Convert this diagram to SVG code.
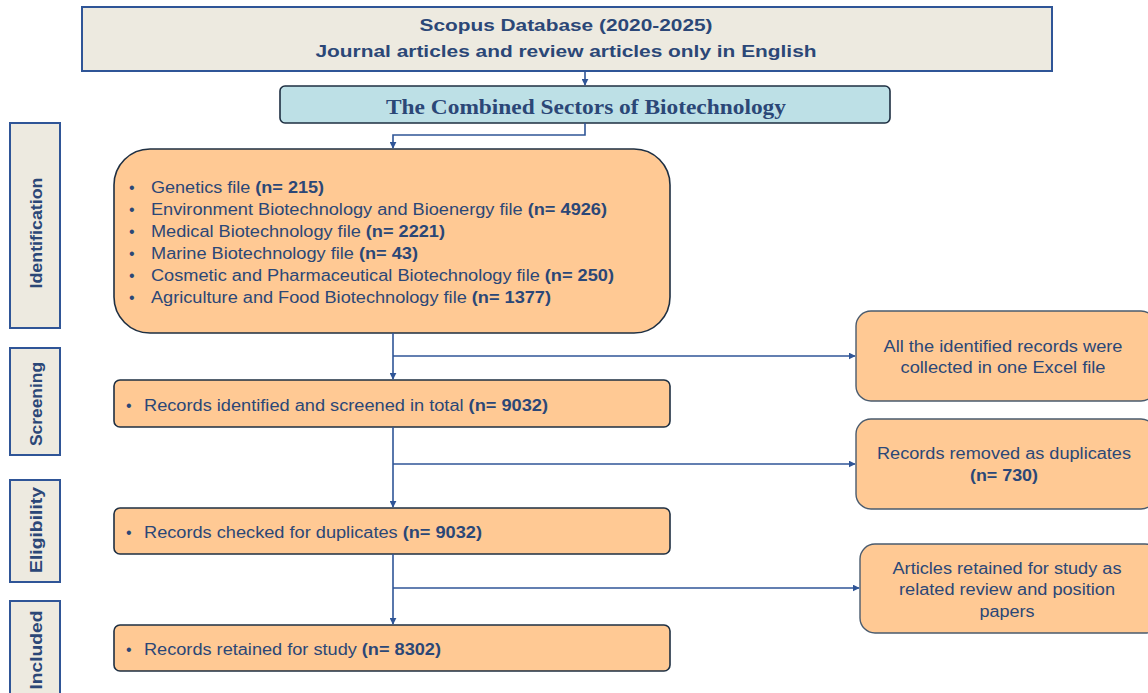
<svg xmlns="http://www.w3.org/2000/svg" width="1148" height="693" viewBox="0 0 1148 693">
  <defs>
    <marker id="arrow" viewBox="0 0 10 10" refX="9" refY="5" markerWidth="7" markerHeight="7" markerUnits="userSpaceOnUse" orient="auto">
      <path d="M0,0 L10,5 L0,10 z" fill="#2F5597"/>
    </marker>
    <style>
      .band { fill: #EDEAE0; stroke: #2F5597; stroke-width: 2; }
      .stage { fill: #FFC994; stroke: #1E2F42; stroke-width: 1.6; }
      .side { fill: #FFC994; stroke: #4A5B6E; stroke-width: 1.4; }
      .title { fill: #BDE0E6; stroke: #1E2F42; stroke-width: 1.6; }
      .link { fill: none; stroke: #2F5597; stroke-width: 1.6; }
      .t { font-family: "Liberation Sans", Arial, sans-serif; fill: #2B4777; font-size: 16px; }
      .b { font-weight: bold; }
      .lbl { font-family: "Liberation Sans", Arial, sans-serif; fill: #2B4777; font-size: 17px; font-weight: bold; text-anchor: middle; }
    </style>
  </defs>

  <!-- Source database -->
  <g id="scopus">
    <rect class="band" x="82" y="7" width="970" height="64"/>
    <text class="t b" x="566" y="31" font-size="20" text-anchor="middle" textLength="293" lengthAdjust="spacingAndGlyphs">Scopus Database (2020-2025)</text>
    <text class="t b" x="566" y="57" font-size="20" text-anchor="middle" textLength="501" lengthAdjust="spacingAndGlyphs">Journal articles and review articles only in English</text>
  </g>

  <!-- Heading box -->
  <g id="sectors">
    <rect class="title" x="280" y="86" width="610" height="37" rx="5"/>
    <text x="586" y="114" font-family="'Liberation Serif', 'Times New Roman', serif" font-size="22" font-weight="bold" fill="#2B4777" text-anchor="middle" textLength="400" lengthAdjust="spacingAndGlyphs">The Combined Sectors of Biotechnology</text>
  </g>

  <!-- Stage labels -->
  <g id="stage-identification">
    <rect class="band" x="10" y="123" width="50" height="205"/>
    <text class="lbl" transform="translate(42,233) rotate(-90)" textLength="111" lengthAdjust="spacingAndGlyphs">Identification</text>
  </g>
  <g id="stage-screening">
    <rect class="band" x="10" y="348" width="50" height="107"/>
    <text class="lbl" transform="translate(42,404) rotate(-90)" textLength="84" lengthAdjust="spacingAndGlyphs">Screening</text>
  </g>
  <g id="stage-eligibility">
    <rect class="band" x="10" y="480" width="50" height="102"/>
    <text class="lbl" transform="translate(42,530) rotate(-90)" textLength="86" lengthAdjust="spacingAndGlyphs">Eligibility</text>
  </g>
  <g id="stage-included">
    <rect class="band" x="10" y="601" width="50" height="100"/>
    <text class="lbl" transform="translate(42,650) rotate(-90)" textLength="79" lengthAdjust="spacingAndGlyphs">Included</text>
  </g>

  <!-- Identification: source files -->
  <g id="identification">
    <rect class="stage" x="114" y="149" width="556" height="184" rx="36"/>
    <g class="t">
      <text x="129" y="193">•</text>
      <text x="129" y="215">•</text>
      <text x="129" y="237">•</text>
      <text x="129" y="259">•</text>
      <text x="129" y="281">•</text>
      <text x="129" y="303">•</text>
      <text x="151" y="193" textLength="173" lengthAdjust="spacingAndGlyphs">Genetics file <tspan class="b">(n= 215)</tspan></text>
      <text x="151" y="215" textLength="456" lengthAdjust="spacingAndGlyphs">Environment Biotechnology and Bioenergy file <tspan class="b">(n= 4926)</tspan></text>
      <text x="151" y="237" textLength="294" lengthAdjust="spacingAndGlyphs">Medical Biotechnology file <tspan class="b">(n= 2221)</tspan></text>
      <text x="151" y="259" textLength="267" lengthAdjust="spacingAndGlyphs">Marine Biotechnology file <tspan class="b">(n= 43)</tspan></text>
      <text x="151" y="281" textLength="463" lengthAdjust="spacingAndGlyphs">Cosmetic and Pharmaceutical Biotechnology file <tspan class="b">(n= 250)</tspan></text>
      <text x="151" y="303" textLength="400" lengthAdjust="spacingAndGlyphs">Agriculture and Food Biotechnology file <tspan class="b">(n= 1377)</tspan></text>
    </g>
  </g>

  <!-- Screening -->
  <g id="screening">
    <rect class="stage" x="114" y="380" width="556" height="47" rx="6"/>
    <text class="t" x="126" y="411">•</text>
    <text class="t" x="144" y="411" textLength="404" lengthAdjust="spacingAndGlyphs">Records identified and screened in total <tspan class="b">(n= 9032)</tspan></text>
  </g>

  <!-- Eligibility -->
  <g id="eligibility">
    <rect class="stage" x="114" y="508" width="556" height="46" rx="6"/>
    <text class="t" x="126" y="538">•</text>
    <text class="t" x="144" y="538" textLength="338" lengthAdjust="spacingAndGlyphs">Records checked for duplicates <tspan class="b">(n= 9032)</tspan></text>
  </g>

  <!-- Included -->
  <g id="included">
    <rect class="stage" x="114" y="625" width="556" height="46" rx="6"/>
    <text class="t" x="126" y="655">•</text>
    <text class="t" x="144" y="655" textLength="297" lengthAdjust="spacingAndGlyphs">Records retained for study <tspan class="b">(n= 8302)</tspan></text>
  </g>

  <!-- Side notes -->
  <g id="note-collected">
    <rect class="side" x="856" y="311" width="300" height="90" rx="15"/>
    <text class="t" x="1003" y="352" text-anchor="middle" textLength="239" lengthAdjust="spacingAndGlyphs">All the identified records were</text>
    <text class="t" x="1003" y="373" text-anchor="middle" textLength="205" lengthAdjust="spacingAndGlyphs">collected in one Excel file</text>
  </g>
  <g id="note-duplicates">
    <rect class="side" x="856" y="419" width="300" height="90" rx="15"/>
    <text class="t" x="1004" y="459" text-anchor="middle" textLength="254" lengthAdjust="spacingAndGlyphs">Records removed as duplicates</text>
    <text class="t b" x="1004" y="481" text-anchor="middle" textLength="68" lengthAdjust="spacingAndGlyphs">(n= 730)</text>
  </g>
  <g id="note-related">
    <rect class="side" x="860" y="544" width="300" height="89" rx="15"/>
    <text class="t" x="1007" y="574" text-anchor="middle" textLength="229" lengthAdjust="spacingAndGlyphs">Articles retained for study as</text>
    <text class="t" x="1007" y="595" text-anchor="middle" textLength="216" lengthAdjust="spacingAndGlyphs">related review and position</text>
    <text class="t" x="1007" y="617" text-anchor="middle" textLength="55" lengthAdjust="spacingAndGlyphs">papers</text>
  </g>

  <!-- Connectors -->
  <g id="connectors">
    <path class="link" d="M585,71 V85" marker-end="url(#arrow)"/>
    <path class="link" d="M585,123 V135 H393 V148" marker-end="url(#arrow)"/>
    <path class="link" d="M393,333 V379" marker-end="url(#arrow)"/>
    <path class="link" d="M393,356 H855" marker-end="url(#arrow)"/>
    <path class="link" d="M393,427 V507" marker-end="url(#arrow)"/>
    <path class="link" d="M393,464 H855" marker-end="url(#arrow)"/>
    <path class="link" d="M393,554 V624" marker-end="url(#arrow)"/>
    <path class="link" d="M393,588 H859" marker-end="url(#arrow)"/>
  </g>
</svg>
